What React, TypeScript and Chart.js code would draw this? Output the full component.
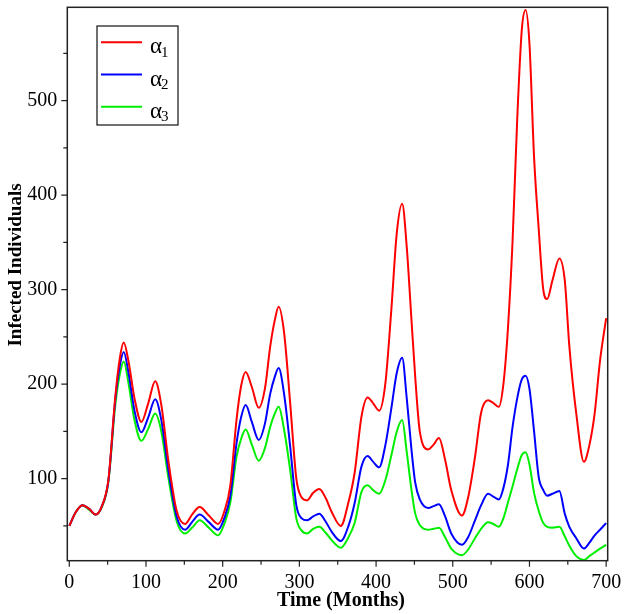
import React, { useEffect, useRef } from 'react';
import { Chart, registerables } from 'chart.js';
import type { Plugin } from 'chart.js';

Chart.register(...registerables);

// values (months, infected individuals)
const months = [
  0, 8, 17, 26, 34, 42, 51, 60, 66, 71, 77, 85, 94, 103, 112, 120, 129, 140, 151, 160,
  170, 182, 194, 202, 210, 218, 224, 230, 238, 247, 255, 262, 268, 273, 280, 288, 296, 303, 310, 318,
  326, 334, 342, 354, 364, 372, 381, 389, 396, 404, 412, 420, 427, 434, 440, 446, 451, 457, 468, 475,
  482, 490, 498, 512, 520, 529, 537, 546, 553, 560, 566, 572, 578, 584, 590, 595, 600, 606, 612, 618,
  623, 630, 639, 646, 652, 661, 671, 678, 685, 692, 700,
];

const alpha1 = [
  50, 64, 72, 68, 62, 70, 99, 187, 228, 244, 225, 185, 160, 180, 203, 178, 120, 66, 52, 62,
  70, 61, 52, 65, 93, 162, 198, 213, 197, 175, 195, 240, 268, 282, 255, 180, 100, 80, 77, 85,
  89, 80, 65, 50, 75, 106, 166, 186, 180, 172, 200, 280, 360, 391, 345, 270, 208, 150, 131, 136,
  143, 120, 88, 61, 80, 123, 170, 183, 180, 176, 200, 260, 352, 480, 575, 596, 560, 440, 365, 300,
  290, 310, 333, 310, 240, 169, 118, 135, 169, 225, 270,
];

const alpha2 = [
  50, 64, 72, 68, 62, 70, 98, 184, 220, 234, 213, 172, 149, 165, 184, 162, 110, 60, 46, 54,
  62, 54, 46, 58, 82, 137, 165, 178, 160, 141, 158, 190, 208, 217, 190, 134, 72, 58, 56, 60,
  63, 55, 44, 34, 50, 74, 113, 124, 118, 112, 135, 175, 212, 228, 185, 132, 96, 78, 69, 71,
  73, 60, 42, 30, 38, 56, 72, 84, 81, 78, 90, 115, 155, 185, 205, 209, 195, 150, 102, 88,
  82, 84, 87, 63, 49, 37, 26, 32, 40, 46, 53,
];

const alpha3 = [
  50, 64, 72, 67, 62, 69, 97, 178, 211, 224, 202, 162, 140, 153, 169, 150, 102, 55, 42, 48,
  56, 48, 40, 52, 75, 123, 142, 152, 136, 119, 132, 155, 169, 176, 152, 109, 58, 45, 42, 47,
  49, 43, 35, 27, 38, 53, 86, 93, 88, 84, 98, 125, 150, 162, 128, 89, 63, 51, 46, 47,
  48, 38, 26, 19, 25, 37, 47, 54, 52, 49, 58, 75, 92, 110, 125, 128, 115, 85, 66, 53,
  49, 48, 49, 39, 29, 18, 14, 18, 22, 26, 30,
];

const seriesNames = ['α', 'α', 'α'];
const seriesSubs = ['1', '2', '3'];
const seriesColors = ['#ff0000', '#0000ff', '#00ee00'];
const seriesValues = [alpha1, alpha2, alpha3];

const xTickValues = [0, 50, 100, 150, 200, 250, 300, 350, 400, 450, 500, 550, 600, 650, 700];
const yTickValues = [50, 100, 150, 200, 250, 300, 350, 400, 450, 500, 550];

const xTitle = 'Time (Months)';
const yTitle = 'Infected Individuals';

const SERIF = "'Liberation Serif', 'Times New Roman', serif";

// box, tick marks, legend and axis titles drawn Maple-style
const maplePlugin: Plugin<'line'> = {
  id: 'maplePlugin',
  afterDraw(chart) {
    const { ctx, chartArea: a } = chart;
    const sx = chart.scales.x;
    const sy = chart.scales.y;
    ctx.save();

    ctx.strokeStyle = '#222';
    ctx.lineWidth = 1.5;
    ctx.strokeRect(a.left, a.top, a.right - a.left, a.bottom - a.top);

    ctx.lineWidth = 1.2;
    ctx.beginPath();
    xTickValues.forEach(v => {
      const x = sx.getPixelForValue(v);
      const len = v % 100 === 0 ? 6 : 4;
      ctx.moveTo(x, a.bottom);
      ctx.lineTo(x, a.bottom + len);
    });
    yTickValues.forEach(v => {
      const y = sy.getPixelForValue(v);
      const len = v % 100 === 0 ? 6 : 4;
      ctx.moveTo(a.left, y);
      ctx.lineTo(a.left - len, y);
    });
    ctx.stroke();

    // legend
    const lx = 97, ly = 26, lw = 81, lh = 99;
    ctx.fillStyle = '#fff';
    ctx.fillRect(lx, ly, lw, lh);
    ctx.strokeStyle = '#111';
    ctx.lineWidth = 1.2;
    ctx.strokeRect(lx, ly, lw, lh);
    seriesNames.forEach((name, i) => {
      const rowY = 42.3 + i * 32.2;
      ctx.strokeStyle = seriesColors[i];
      ctx.lineWidth = 2;
      ctx.beginPath();
      ctx.moveTo(101, rowY);
      ctx.lineTo(142, rowY);
      ctx.stroke();
      ctx.fillStyle = '#000';
      ctx.textAlign = 'left';
      ctx.textBaseline = 'alphabetic';
      ctx.font = `23px ${SERIF}`;
      ctx.fillText(name, 150, rowY + 11);
      const w = ctx.measureText(name).width;
      ctx.font = `15px ${SERIF}`;
      ctx.fillText(seriesSubs[i], 150 + w - 1, rowY + 14.5);
    });

    // axis titles
    ctx.fillStyle = '#000';
    ctx.font = `bold 20px ${SERIF}`;
    ctx.textAlign = 'center';
    ctx.textBaseline = 'middle';
    ctx.fillText(xTitle, 341, 601);

    ctx.translate(16, 265);
    ctx.rotate(-Math.PI / 2);
    ctx.font = `bold 19px ${SERIF}`;
    ctx.fillText(yTitle, 0, 0);

    ctx.restore();
  },
};

const App: React.FC = () => {
  const canvasRef = useRef<HTMLCanvasElement>(null);

  useEffect(() => {
    document.body.style.margin = '0';
    if (!canvasRef.current) return;

    const chart = new Chart(canvasRef.current, {
      type: 'line',
      data: {
        datasets: seriesValues.map((vals, i) => ({
          label: seriesNames[i] + seriesSubs[i],
          data: months.map((m, j) => ({ x: m, y: vals[j] })),
          borderColor: seriesColors[i],
          borderWidth: 2,
          pointRadius: 0,
          fill: false,
          cubicInterpolationMode: 'monotone' as const,
        })),
      },
      options: {
        animation: false,
        responsive: false,
        events: [],
        layout: { padding: { top: 7.3, right: 16.3, left: 0, bottom: 0 } },
        plugins: {
          legend: { display: false },
          tooltip: { enabled: false },
        },
        scales: {
          x: {
            type: 'linear',
            min: -2.6,
            max: 702,
            grid: { display: false, drawTicks: false },
            border: { display: false },
            afterBuildTicks: scale => {
              scale.ticks = xTickValues.map(v => ({ value: v }));
            },
            afterFit: scale => {
              scale.height = 53.3;
              scale.paddingLeft = 0;
              scale.paddingRight = 0;
            },
            ticks: {
              color: '#000',
              padding: 10,
              maxRotation: 0,
              autoSkip: false,
              font: { family: SERIF, size: 20 },
              callback: v => (Number(v) % 100 === 0 ? String(v) : ''),
            },
          },
          y: {
            type: 'linear',
            min: 13.2,
            max: 598.8,
            grid: { display: false, drawTicks: false },
            border: { display: false },
            afterBuildTicks: scale => {
              scale.ticks = yTickValues.map(v => ({ value: v }));
            },
            afterFit: scale => {
              scale.width = 67.3;
              scale.paddingTop = 0;
              scale.paddingBottom = 0;
            },
            ticks: {
              color: '#000',
              padding: 10,
              autoSkip: false,
              font: { family: SERIF, size: 20 },
              callback: v => (Number(v) % 100 === 0 ? String(v) : ''),
            },
          },
        },
      },
      plugins: [maplePlugin],
    });

    return () => {
      chart.destroy();
    };
  }, []);

  return (
    <div style={{ width: 624, height: 614, background: '#fff' }}>
      <canvas ref={canvasRef} width={624} height={614} style={{ width: 624, height: 614 }} />
    </div>
  );
};

export default App;
